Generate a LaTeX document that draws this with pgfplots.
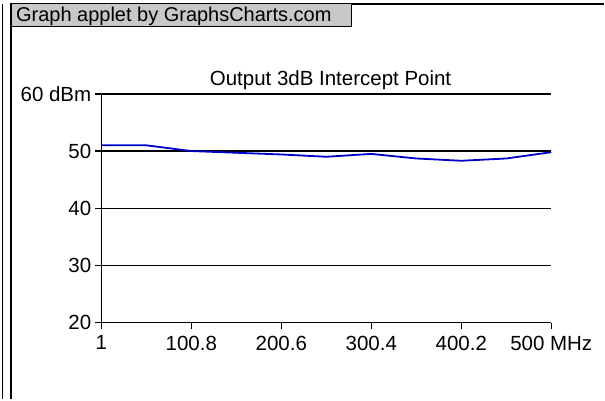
\documentclass[border=0pt]{standalone}
\usepackage{pgfplots}
\pgfplotsset{compat=1.18}
\usepackage{fontspec}
\setmainfont{Liberation Sans}
\definecolor{linecol}{RGB}{0,0,200}
\definecolor{boxgray}{RGB}{200,200,200}
\begin{document}
\begin{tikzpicture}
\begin{axis}[
  name=ax, at={(0,0)}, anchor=south west,
  scale only axis, width=450.5pt, height=229pt,
  xmin=1, xmax=500, ymin=20, ymax=60,
  axis x line*=bottom, axis y line*=left,
  xtick pos=bottom, ytick pos=left,
  axis line style={-, line width=1.5pt, black},
  xtick={1,100.8,200.6,300.4,400.2,500},
  xticklabels={1,100.8,200.6,300.4,400.2,500 MHz},
  ytick={20,30,40,50,60},
  yticklabels={20,30,40,50,60 dBm},
  ymajorgrids, grid style={black, line width=1.3pt},
  major tick style={black, line width=1.3pt},
  xtick style={black, line width=1.3pt},
  major tick length=6pt, tick align=outside,
  tick label style={font=\fontsize{20.5}{24}\selectfont},
  yticklabel style={inner sep=4pt},
  xticklabel style={inner sep=3pt, yshift=-4pt},
  clip=false,
]
\addplot[linecol, line width=1.8pt] coordinates {
(1,51.0) (50.9,51.0) (100.8,50.0) (150.7,49.7) (200.6,49.4) (250.5,49.0)
(300.4,49.5) (350.3,48.7) (400.2,48.3) (450.1,48.7) (500,49.8)
};
\end{axis}
\begin{scope}[shift={(ax.south west)}, xshift=-101.5pt, yshift=-77pt, x=1pt, y=1pt]
\path (0,0) rectangle (605,400);
\foreach \tx in {101.5,191.6,281.7,371.8,461.9,552}
  \draw[line width=1.3pt] (\tx,77) -- (\tx,70.5);
\draw[line width=1.6pt] (2.5,0) -- (2.5,396);
\draw[line width=1.6pt] (11,0) -- (11,396) -- (605,396);
\draw[fill=boxgray, line width=1pt] (11.8,396) rectangle (352,373);
\node[anchor=base west, inner sep=0pt, font=\fontsize{20}{24}\selectfont] at (16,378.5) {Graph applet by GraphsCharts.com};
\node[anchor=base east, inner sep=0pt, font=\fontsize{20.5}{24}\selectfont] at (452,314) {Output 3dB Intercept Point};
\end{scope}
\end{tikzpicture}
\end{document}
